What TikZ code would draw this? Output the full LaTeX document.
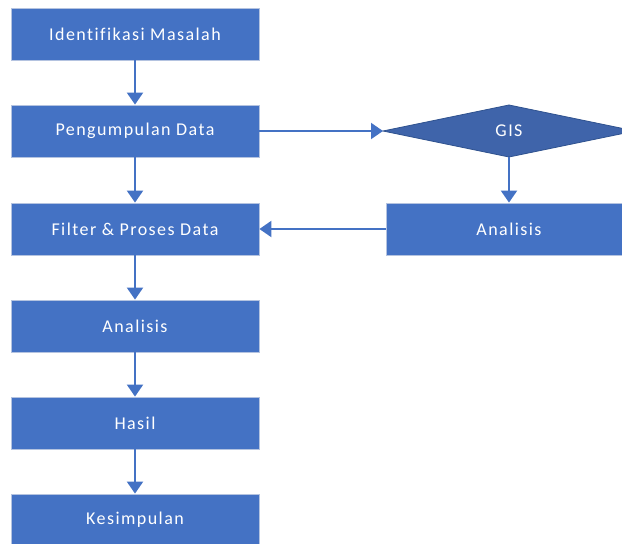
\documentclass[tikz,border=0pt]{standalone}
\usepackage{fontspec}
\setmainfont{Carlito}[LetterSpace=8,Ligatures={NoCommon}]
\usetikzlibrary{shapes.geometric,arrows.meta}
\definecolor{boxblue}{HTML}{4472C4}
\definecolor{boxedge}{HTML}{B4C3E0}
\definecolor{diafill}{HTML}{3F64AA}
\definecolor{diaedge}{HTML}{2F528F}
\tikzset{
  x=1pt,y=-1pt,
  lbl/.style={text=white, font=\fontsize{18}{21}\selectfont},
  procbox/.style={rectangle, draw=boxedge, line width=0.8pt, fill=boxblue, minimum width=248pt, minimum height=52pt, inner sep=0pt, lbl},
  flow/.style={draw=boxblue, line width=2pt, -{Triangle[length=12pt,width=16pt]}},
}
\begin{document}
\begin{tikzpicture}
\useasboundingbox (0,0) rectangle (622,544);
\clip (0,0) rectangle (622,544);
\node[procbox] (idm) at (135,34) {Identifikasi Masalah};
\node[procbox] (pd) at (135,131) {Pengumpulan Data};
\node[procbox] (fp) at (135,229) {Filter \& Proses Data};
\node[procbox] (an) at (135,326) {Analisis};
\node[procbox] (ha) at (135,423) {Hasil};
\node[procbox] (ks) at (135,520) {Kesimpulan};
\node[procbox, minimum width=246pt] (an2) at (509,229) {Analisis};
\fill[diafill, draw=diaedge, line width=0.8pt] (383,131) -- (509,105) -- (635,131) -- (509,157) -- cycle;
\node[lbl] (gis) at (509,131) {GIS};
\coordinate (gisw) at (383,131);
\coordinate (giss) at (509,157);
\draw[flow] (idm.south) -- (pd.north);
\draw[flow] (pd.south) -- (fp.north);
\draw[flow] (fp.south) -- (an.north);
\draw[flow] (an.south) -- (ha.north);
\draw[flow] (ha.south) -- (ks.north);
\draw[flow] (pd.east) -- (gisw);
\draw[flow] (giss) -- (an2.north);
\draw[flow] (an2.west) -- (fp.east);
\end{tikzpicture}
\end{document}
